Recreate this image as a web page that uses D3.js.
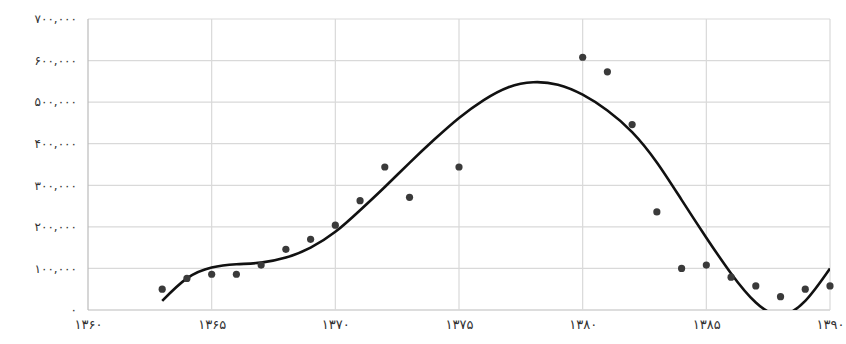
<!DOCTYPE html>
<html>
<head>
<meta charset="utf-8">
<script src="https://cdn.jsdelivr.net/npm/d3@7"></script>
<style>
  body { margin: 0; background: #fff; }
  svg text { font-family: "DejaVu Sans", sans-serif; fill: #333; }
</style>
</head>
<body>
<div id="root"></div>
<script>
const width = 846;
const height = 344;

// observed values (year, count)
const years = [1363, 1364, 1365, 1366, 1367, 1368, 1369, 1370, 1371, 1372, 1373, 1375,
    1380, 1381, 1382, 1383, 1384, 1385, 1386, 1387, 1388, 1389, 1390];
const values = [50000, 76000, 86000, 86000, 108000, 146000, 170000, 204000, 263000, 344000, 271000, 344000,
    608000, 573000, 446000, 236000, 100000, 108000, 79000, 58000, 32000, 50000, 58000];

// trend line
const trendYears = [1363, 1364, 1365, 1366, 1367, 1368, 1369, 1370, 1371, 1372, 1373, 1374, 1375, 1376,
    1377, 1378, 1379, 1380, 1381, 1382, 1383, 1384, 1385, 1386, 1387, 1388, 1389, 1390];
const trendValues = [22000, 76000, 102000, 110000, 114000, 126000, 150000, 188000, 240000, 296000, 354000,
    410000, 462000, 505000, 536000, 548000, 542000, 518000, 480000, 428000, 355000, 265000, 174000, 88000,
    18000, -12000, 22000, 100000];

const xTicks = [1360, 1365, 1370, 1375, 1380, 1385, 1390];
const yTicks = [0, 100000, 200000, 300000, 400000, 500000, 600000, 700000];

const faDigits = '۰۱۲۳۴۵۶۷۸۹';
const toFa = s => String(s).replace(/[0-9]/g, c => faDigits[+c]);

const x = d3.scaleLinear().domain([1360, 1390]).range([88, 830]);
const y = d3.scaleLinear().domain([0, 700000]).range([310, 19]);

const svg = d3.select('#root')
    .append('svg')
    .attr('width', width)
    .attr('height', height);

svg.append('defs').append('clipPath')
    .attr('id', 'plot-clip')
    .append('rect')
    .attr('x', x(1360))
    .attr('y', y(700000))
    .attr('width', x(1390) - x(1360))
    .attr('height', y(0) - y(700000));

// grid
svg.append('g')
    .selectAll('line')
    .data(yTicks)
    .join('line')
    .attr('x1', x(1360))
    .attr('x2', x(1390))
    .attr('y1', d => y(d))
    .attr('y2', d => y(d))
    .attr('stroke', d => d === 0 ? '#bbb' : '#d9d9d9')
    .attr('stroke-width', 1.2);

svg.append('g')
    .selectAll('line')
    .data(xTicks)
    .join('line')
    .attr('x1', d => x(d))
    .attr('x2', d => x(d))
    .attr('y1', y(700000))
    .attr('y2', y(0))
    .attr('stroke', d => d === 1360 ? '#bbb' : '#d9d9d9')
    .attr('stroke-width', 1.2);

// axes labels
const yAxis = d3.axisLeft(y)
    .tickValues(yTicks)
    .tickSize(0)
    .tickPadding(11)
    .tickFormat(d => toFa(d3.format(',')(d)));

svg.append('g')
    .attr('transform', `translate(${x(1360)},0)`)
    .call(yAxis)
    .call(g => g.select('.domain').remove())
    .selectAll('text')
    .attr('font-size', 12)
    .attr('letter-spacing', 0.6);

const xAxis = d3.axisBottom(x)
    .tickValues(xTicks)
    .tickSize(0)
    .tickPadding(10)
    .tickFormat(d => toFa(d));

svg.append('g')
    .attr('transform', `translate(0,${y(0)})`)
    .call(xAxis)
    .call(g => g.select('.domain').remove())
    .selectAll('text')
    .attr('font-size', 13)
    .attr('letter-spacing', 1);

// trend line
const line = d3.line()
    .x((d, i) => x(trendYears[i]))
    .y(d => y(d))
    .curve(d3.curveNatural);

svg.append('path')
    .datum(trendValues)
    .attr('clip-path', 'url(#plot-clip)')
    .attr('fill', 'none')
    .attr('stroke', '#111')
    .attr('stroke-width', 2.6)
    .attr('d', line);

// points
svg.append('g')
    .selectAll('circle')
    .data(values)
    .join('circle')
    .attr('cx', (d, i) => x(years[i]))
    .attr('cy', d => y(d))
    .attr('r', 3.6)
    .attr('fill', '#3a3a3a');
</script>
</body>
</html>
